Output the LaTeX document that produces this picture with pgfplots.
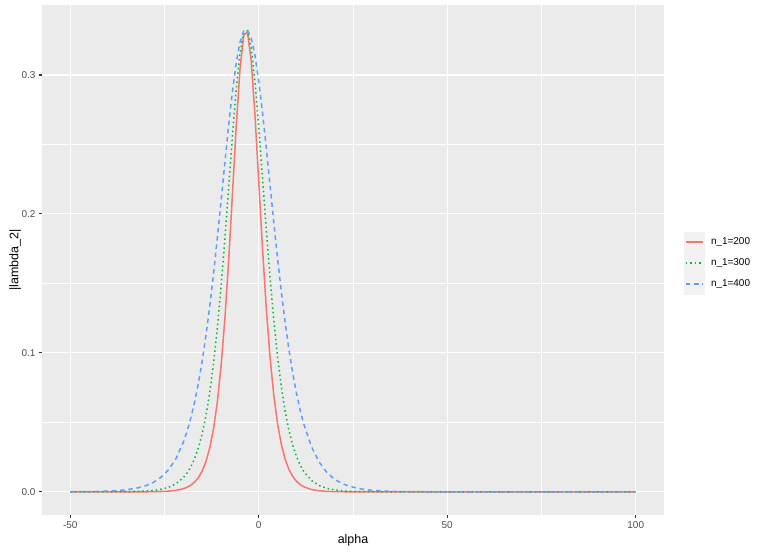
\documentclass[border=0pt]{standalone}
\usepackage{fontspec}
\setmainfont{Liberation Sans}
\usepackage{pgfplots}
\usepackage{pgfplotstable}
\pgfplotsset{compat=1.18}

\definecolor{panelgrey}{HTML}{EBEBEB}
\definecolor{keygrey}{HTML}{F2F2F2}
\definecolor{grey30}{HTML}{4D4D4D}
\definecolor{grey20}{HTML}{333333}
\definecolor{gred}{HTML}{F8766D}
\definecolor{ggreen}{HTML}{00BA38}
\definecolor{gblue}{HTML}{619CFF}

% |lambda_2| against alpha
\pgfplotstableread{
alpha lam
-50 0
-42 0
-35 0
-32 0.00002
-30 0.00005
-28 0.00010
-26 0.00022
-24 0.00048
-22 0.00104
-20 0.00225
-19 0.00330
-18 0.00482
-17 0.00705
-16 0.0103
-15 0.0150
-14 0.0218
-13 0.0316
-12 0.0454
-11 0.0644
-10 0.0903
-9 0.1242
-8 0.1657
-7 0.2133
-6 0.2619
-5 0.3034
-4 0.3286
-3 0.3310
-2 0.3100
-1 0.2710
0 0.2232
1 0.1749
2 0.1319
3 0.0965
4 0.0691
5 0.0487
6 0.0340
7 0.0235
8 0.0162
9 0.0111
10 0.00761
11 0.00520
12 0.00355
14 0.00165
16 0.00077
18 0.00035
20 0.00016
22 0.00008
24 0.00003
30 0
50 0
70 0
100 0
}\nA

\pgfplotstableread{
alpha lam
-50 0
-46 0
-42 0.00002
-38 0.00006
-35 0.00013
-32 0.00031
-30 0.00056
-28 0.00100
-26 0.00180
-24 0.00322
-22 0.00574
-20 0.0102
-19 0.0136
-18 0.0181
-17 0.0241
-16 0.0318
-15 0.0419
-14 0.0550
-13 0.0715
-12 0.0922
-11 0.1175
-10 0.1475
-9 0.1817
-8 0.2184
-7 0.2554
-6 0.2892
-5 0.3154
-4 0.3304
-3 0.3319
-2 0.3194
-1 0.2951
0 0.2626
1 0.2259
2 0.1888
3 0.1541
4 0.1232
5 0.0969
6 0.0753
7 0.0580
8 0.0443
9 0.0337
10 0.0255
11 0.0192
12 0.0144
14 0.0081
16 0.00455
18 0.00255
20 0.00142
22 0.00079
24 0.00044
27 0.00018
30 0.00008
34 0.00002
44 0
60 0
80 0
100 0
}\nB

\pgfplotstableread{
alpha lam
-50 0.00006
-46 0.00014
-42 0.00034
-38 0.00079
-35 0.00150
-32 0.0029
-30 0.0044
-28 0.0067
-26 0.0103
-24 0.0157
-22 0.0237
-20 0.0357
-19 0.0437
-18 0.0533
-17 0.0647
-16 0.0783
-15 0.0942
-14 0.1126
-13 0.1336
-12 0.1569
-11 0.1824
-10 0.2092
-9 0.2367
-8 0.2635
-7 0.2878
-6 0.3084
-5 0.3234
-4 0.3316
-3 0.3324
-2 0.3266
-1 0.3140
0 0.2955
1 0.2730
2 0.2475
3 0.2205
4 0.1937
5 0.1678
6 0.1437
7 0.1218
8 0.1024
9 0.0855
10 0.0710
11 0.0586
12 0.0482
14 0.0324
16 0.0215
18 0.0142
20 0.0093
22 0.0061
24 0.0040
27 0.00212
30 0.00112
34 0.00048
38 0.00021
44 0.00006
50 0.00001
60 0
80 0
100 0
}\nC

\begin{document}
\begin{tikzpicture}
\begin{axis}[
  scale only axis,
  width=622bp, height=509.5bp,
  xmin=-57.5, xmax=107.5,
  ymin=-0.01667, ymax=0.35,
  axis background/.style={fill=panelgrey},
  axis line style={draw=none},
  xtick={-50,0,50,100},
  xticklabels={-50,0,50,100},
  ytick={0,0.1,0.2,0.3},
  yticklabels={0.0,0.1,0.2,0.3},
  minor xtick={-25,25,75},
  minor ytick={0.05,0.15,0.25},
  grid=both,
  major grid style={white, line width=1.1bp},
  minor grid style={white, line width=0.55bp},
  tick pos=left,
  tick align=outside,
  major tick length=3bp,
  minor tick length=0bp,
  tick style={grey20, line width=1.1bp},
  ticklabel style={font=\fontsize{10}{12}\selectfont, text=grey30},
  xlabel={alpha},
  ylabel={|lambda\_2|},
  label style={font=\fontsize{12.5}{15}\selectfont, text=black},
  xlabel style={at={(axis description cs:0.5,-0.0505)}, anchor=center},
  ylabel style={at={(axis description cs:-0.0432,0.5)}, anchor=center, rotate=0},
  legend image code/.code={
    \fill[keygrey, draw=none, solid] (0bp,-10.5bp) rectangle (20.7bp,10.5bp);
    \draw[#1] (1.7bp,0bp) -- (19bp,0bp);
  },
  legend style={
    at={(axis description cs:1,0.5)}, anchor=west,
    xshift=20bp, yshift=-3bp,
    draw=none, fill=none, inner sep=0pt, outer sep=0pt,
    row sep=0pt, column sep=6.3bp,
    font=\fontsize{10}{12}\selectfont,
    nodes={inner sep=0pt}
  },
  legend cell align=left,
  every axis plot/.append style={line width=1.5bp, line join=round, no markers},
]
\addplot[gred, solid] table[x=alpha, y=lam] {\nA};
\addlegendentry{n\_1=200}
\addplot[ggreen, dash pattern=on 1.5bp off 3bp] table[x=alpha, y=lam] {\nB};
\addlegendentry{n\_1=300}
\addplot[gblue, dash pattern=on 4.5bp off 3.8bp] table[x=alpha, y=lam] {\nC};
\addlegendentry{n\_1=400}
\end{axis}
\pgfresetboundingbox
\useasboundingbox ([shift={(-42bp,-38bp)}]current axis.south west) rectangle ++(763bp,553bp);
\end{tikzpicture}
\end{document}
